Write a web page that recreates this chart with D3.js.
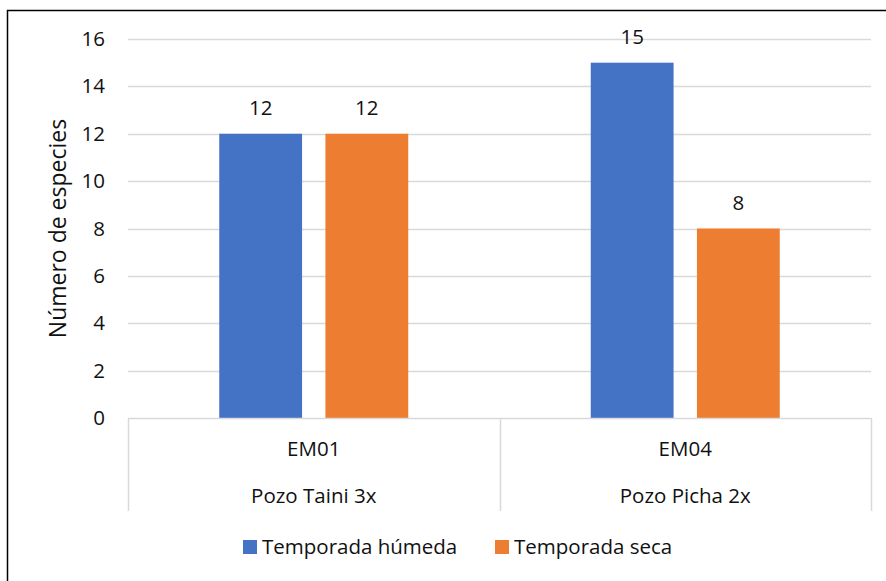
<!DOCTYPE html>
<html>
<head>
<meta charset="utf-8">
<script src="https://cdn.jsdelivr.net/npm/d3@7"></script>
<style>
  html, body { margin: 0; padding: 0; background: #fff; }
  svg { display: block; font-family: "Open Sans", "Liberation Sans", sans-serif; }
</style>
</head>
<body>
<svg id="chart" width="886" height="581"></svg>
<script>
const categories = ["EM01", "EM04"];
const groupLabels = ["Pozo Taini 3x", "Pozo Picha 2x"];
const seriesNames = ["Temporada húmeda", "Temporada seca"];
const humeda = [12, 15];
const seca = [12, 8];
const yTicks = [0, 2, 4, 6, 8, 10, 12, 14, 16];
const colors = ["#4472C4", "#ED7D31"];
const yTitle = "Número de especies";

const FS = 20.5;
const svg = d3.select("#chart");
const W = 886, H = 581;
const margin = { left: 128, right: 15, top: 39, bottom: 163 };
const plotW = W - margin.left - margin.right;   // 743
const plotH = H - margin.top - margin.bottom;   // 379

// border (left and top visible)
svg.append("path").attr("d", `M7.5,${H} L7.5,10.5 L${W},10.5`)
  .attr("fill", "none").attr("stroke", "#000").attr("stroke-width", 1.5);

const g = svg.append("g").attr("transform", `translate(${margin.left},${margin.top})`);

const y = d3.scaleLinear().domain([0, 16]).range([plotH, 0]);
const x0 = d3.scaleBand().domain(categories).range([0, plotW]).paddingInner(0).paddingOuter(0);
const x1 = d3.scaleBand().domain(seriesNames).range([0, 189]).paddingInner(0.22).paddingOuter(0);

// gridlines
g.append("g").selectAll("line").data(yTicks.filter(d => d > 0)).join("line")
  .attr("x1", 0).attr("x2", plotW)
  .attr("y1", d => Math.round(y(d)) + 0.5).attr("y2", d => Math.round(y(d)) + 0.5)
  .attr("stroke", "#d9d9d9").attr("stroke-width", 1.3);

// y tick labels
const yAxis = d3.axisLeft(y).tickValues(yTicks).tickSize(0).tickPadding(23);
const ya = g.append("g").call(yAxis);
ya.select(".domain").remove();
ya.selectAll("text").attr("font-size", FS).attr("fill", "#111")
  .attr("font-family", "\"Open Sans\", sans-serif");

// bars
const data = categories.map((c, i) => ({ cat: c, vals: [
  { s: seriesNames[0], v: humeda[i], c: colors[0] },
  { s: seriesNames[1], v: seca[i], c: colors[1] } ] }));

const grp = g.selectAll("g.grp").data(data).join("g").attr("class", "grp")
  .attr("transform", d => `translate(${x0(d.cat) + (x0.bandwidth() - 189) / 2},0)`);
grp.selectAll("rect").data(d => d.vals).join("rect")
  .attr("x", d => x1(d.s)).attr("width", x1.bandwidth())
  .attr("y", d => y(d.v)).attr("height", d => y(0) - y(d.v))
  .attr("fill", d => d.c);
grp.selectAll("text").data(d => d.vals).join("text")
  .attr("x", d => x1(d.s) + x1.bandwidth() / 2)
  .attr("y", d => y(d.v) - 26)
  .attr("dy", "0.35em")
  .attr("text-anchor", "middle").attr("font-size", FS).attr("fill", "#111")
  .text(d => d.v);

// category axis (multi-level)
const axisCol = "#d9d9d9";
g.append("line").attr("x1", 0).attr("x2", plotW).attr("y1", plotH + 0.5).attr("y2", plotH + 0.5)
  .attr("stroke", axisCol).attr("stroke-width", 1.5);
const bounds = [0, ...categories.map(c => x0(c) + x0.bandwidth())];
g.selectAll("line.sep").data(bounds).join("line").attr("class", "sep")
  .attr("x1", d => Math.round(d) + 0.5).attr("x2", d => Math.round(d) + 0.5)
  .attr("y1", plotH).attr("y2", plotH + 93)
  .attr("stroke", axisCol).attr("stroke-width", 1.5);
g.selectAll("text.cat").data(categories).join("text").attr("class", "cat")
  .attr("x", d => x0(d) + x0.bandwidth() / 2).attr("y", plotH + 31).attr("dy", "0.35em")
  .attr("text-anchor", "middle").attr("font-size", FS).attr("fill", "#111").text(d => d);
g.selectAll("text.grpl").data(categories).join("text").attr("class", "grpl")
  .attr("x", d => x0(d) + x0.bandwidth() / 2).attr("y", plotH + 78).attr("dy", "0.35em")
  .attr("text-anchor", "middle").attr("font-size", FS).attr("fill", "#111")
  .text((d, i) => groupLabels[i]);

// y axis title
svg.append("text").attr("transform", `translate(58,${margin.top + plotH / 2}) rotate(-90)`)
  .attr("text-anchor", "middle").attr("dy", "0.35em").attr("font-size", 23).attr("fill", "#111")
  .text(yTitle);

// legend
const legendX = [243, 495];
const lg = svg.selectAll("g.leg").data(seriesNames).join("g").attr("class", "leg")
  .attr("transform", (d, i) => `translate(${legendX[i]},540)`);
lg.append("rect").attr("width", 14).attr("height", 14).attr("fill", (d, i) => colors[i]);
lg.append("text").attr("x", 19).attr("y", 7).attr("dy", "0.35em")
  .attr("font-size", FS).attr("fill", "#111").text(d => d);
</script>
</body>
</html>
